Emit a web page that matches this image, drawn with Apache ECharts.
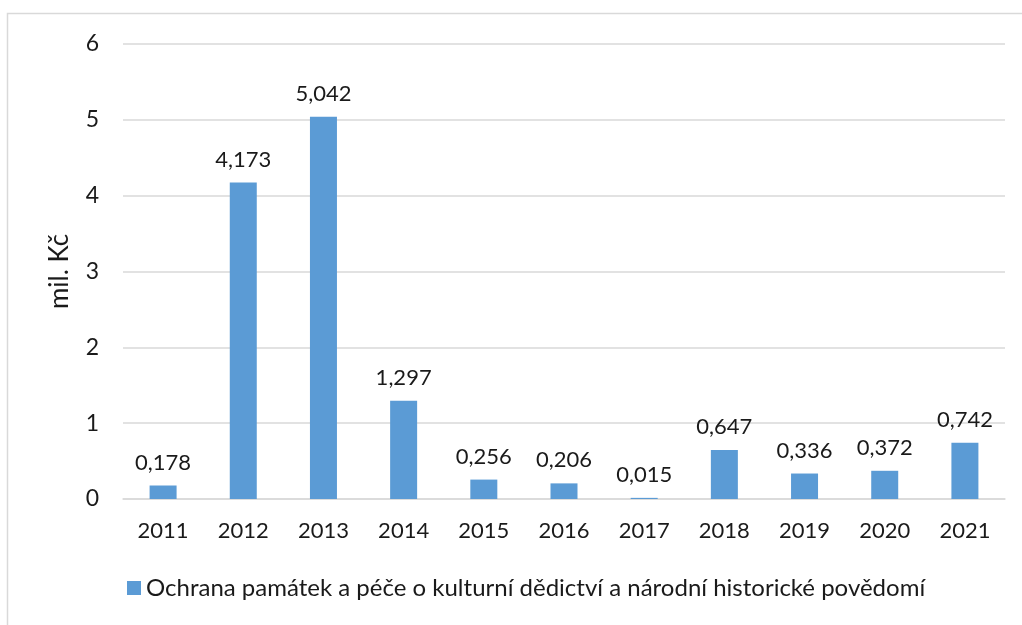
<!DOCTYPE html>
<html>
<head>
<meta charset="utf-8">
<style>
  html, body { margin: 0; padding: 0; background: #fff; }
  #chart { width: 1022px; height: 625px; }
</style>
<script src="https://cdn.jsdelivr.net/npm/echarts@6/dist/echarts.min.js"></script>
</head>
<body>
<div id="chart"></div>
<script>
// data
const years = ['2011', '2012', '2013', '2014', '2015', '2016', '2017', '2018', '2019', '2020', '2021']
const values = [0.178, 4.173, 5.042, 1.297, 0.256, 0.206, 0.015, 0.647, 0.336, 0.372, 0.742]
const seriesName = 'Ochrana památek a péče o kulturní dědictví a národní historické povědomí'
const yTicks = [0, 1, 2, 3, 4, 5, 6]

const font = 'Lato, "Noto Sans", sans-serif'
const chart = echarts.init(document.getElementById('chart'))

const option = {
  animation: false,
  textStyle: { fontFamily: font },
  graphic: [
    {
      type: 'rect',
      shape: { x: 7.5, y: 13.5, width: 1040, height: 700 },
      style: { fill: 'none', stroke: '#d9d9d9', lineWidth: 1.5 },
      silent: true
    }
  ],
  grid: { left: 123, right: 17, top: 44, bottom: 126 },
  legend: {
    data: [seriesName],
    left: 127,
    top: 576,
    padding: 0,
    icon: 'rect',
    itemWidth: 14,
    itemHeight: 14,
    itemGap: 8,
    textStyle: { fontFamily: font, fontSize: 24, color: '#1a1a1a' }
  },
  xAxis: {
    type: 'category',
    data: years,
    axisTick: { show: false },
    axisLine: { lineStyle: { color: '#d9d9d9', width: 1.5 } },
    axisLabel: { fontFamily: font, fontSize: 22, color: '#1a1a1a', margin: 21 }
  },
  yAxis: {
    type: 'value',
    min: yTicks[0],
    max: yTicks[yTicks.length - 1],
    interval: 1,
    name: 'mil. Kč',
    nameLocation: 'middle',
    nameGap: 50,
    nameRotate: 90,
    nameTextStyle: { fontFamily: font, fontSize: 26, color: '#1a1a1a' },
    axisLine: { show: false },
    axisTick: { show: false },
    axisLabel: { fontFamily: font, fontSize: 23, color: '#1a1a1a', margin: 24 },
    splitLine: { lineStyle: { color: '#d9d9d9', width: 1.5 } }
  },
  series: [
    {
      name: seriesName,
      type: 'bar',
      data: values,
      barWidth: 27,
      itemStyle: { color: '#5b9bd5' },
      label: {
        show: true,
        position: 'top',
        distance: 12,
        fontFamily: font,
        fontSize: 22,
        color: '#1a1a1a',
        formatter: p => p.value.toFixed(3).replace('.', ',')
      }
    }
  ]
}
chart.setOption(option)
</script>
</body>
</html>
